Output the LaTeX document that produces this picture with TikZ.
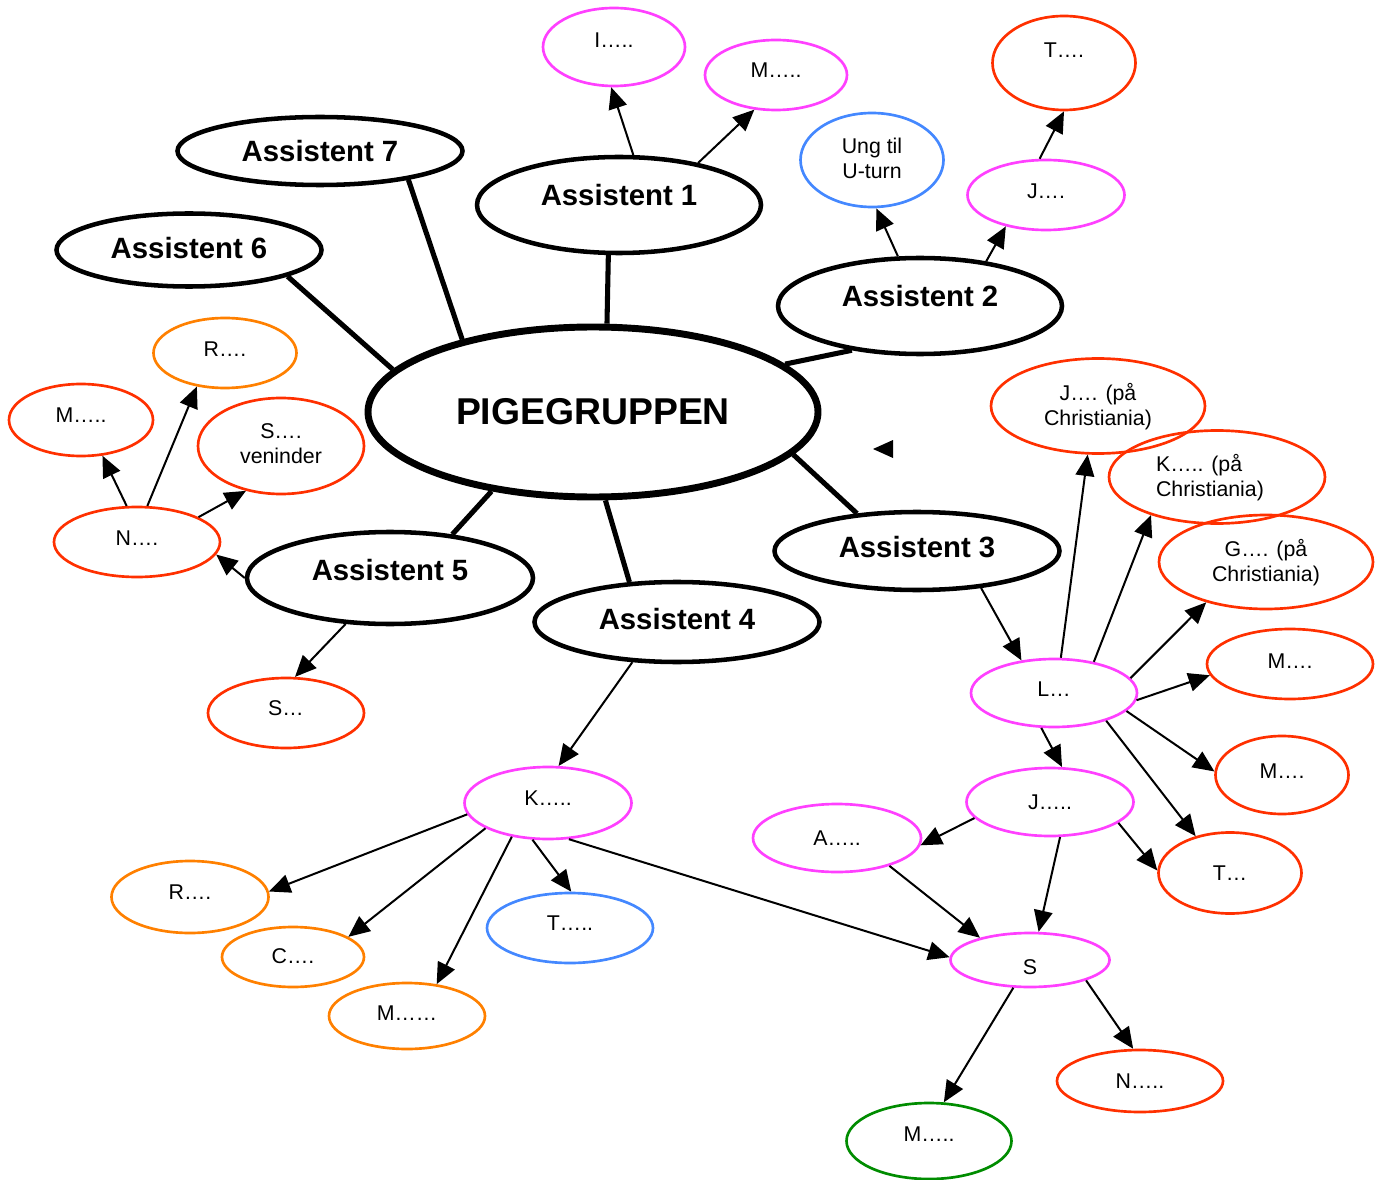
\documentclass[tikz,border=0pt]{standalone}
\usepackage{fontspec}
\setmainfont{Liberation Sans}
\usetikzlibrary{shapes.geometric,arrows.meta}
\definecolor{cmag}{RGB}{255,64,255}
\definecolor{cred}{RGB}{255,48,0}
\definecolor{corange}{RGB}{255,128,0}
\definecolor{cblue}{RGB}{68,136,255}
\definecolor{cgreen}{RGB}{0,140,0}
\begin{document}
\begin{tikzpicture}[x=0.75pt,y=-0.75pt,
 el/.style 2 args={ellipse, inner sep=0pt, minimum width=#1*0.75pt, minimum height=#2*0.75pt},
 hub/.style={draw, line width=5.2pt, font=\fontsize{28}{32}\selectfont\bfseries},
 asst/.style={draw, line width=3.4pt, font=\fontsize{22}{25}\selectfont\bfseries},
 sm/.style={draw=#1, line width=2pt, font=\fontsize{16}{18.75}\selectfont, align=center, text depth=0.3em},
 up/.style={text depth=#1*1.5pt},
 tie/.style={line width=3.8pt},
 arr/.style={line width=1.5pt, -{Triangle[length=16pt,width=14pt]}}
]
\useasboundingbox (0,0) rectangle (1381,1180);
% main and assistants
\node[el={450}{170},hub] (P) at (593,412) {PIGEGRUPPEN};
\node[el={284}{96},asst,up=10] (A1) at (619,205) {Assistent 1};
\node[el={285}{68},asst] (A7) at (320,151) {Assistent 7};
\node[el={265}{73},asst,up=2] (A6) at (189,250) {Assistent 6};
\node[el={284}{96},asst,up=10] (A2) at (920,306) {Assistent 2};
\node[el={285}{78},asst,up=4] (A3) at (917,551) {Assistent 3};
\node[el={285}{80},asst,up=3] (A4) at (677,622) {Assistent 4};
\node[el={286}{92},asst,up=8] (A5) at (390,578) {Assistent 5};
% small nodes
\node[el={142}{78},sm=cmag,up=7] (I1) at (614,47) {I…..};
\node[el={142}{70},sm=cmag,up=5] (M1) at (776,75) {M…..};
\node[el={143}{94},sm=cblue] (U) at (872,160) {Ung til\\U-turn};
\node[el={143}{94},sm=cred,up=13] (T1) at (1064,63) {T….};
\node[el={157}{70},sm=cmag,up=4] (J1) at (1046,195) {J….};
\node[el={143}{70},sm=corange,up=4] (R1) at (225,353) {R….};
\node[el={144}{72},sm=cred,up=5] (M2) at (81,420) {M…..};
\node[el={166}{96},sm=cred] (SV) at (281,446) {S….\\veninder};
\node[el={166}{70},sm=cred,up=4] (N1) at (137,542) {N….};
\node[el={156}{70},sm=cred,up=5] (S1) at (286,713) {S…};
\node[el={167}{72},sm=cmag,up=5] (K1) at (548,803) {K…..};
\node[el={157}{72},sm=corange,up=5] (R2) at (190,897) {R….};
\node[el={142}{60},sm=corange,up=1] (C1) at (293,957) {C….};
\node[el={156}{66},sm=corange,up=3] (M3) at (407,1016) {M……};
\node[el={166}{70},sm=cblue,up=5] (T2) at (570,928) {T…..};
\node[el={214}{95},sm=cred] (JC) at (1098,406) {J…. (på\\Christiania)};
\node[el={216}{93},sm=cred,align=left] (KC) at (1217,477) {K….. (på\\Christiania)\hspace*{10.5pt}};
\node[el={214}{94},sm=cred] (GC) at (1266,562) {G…. (på\\Christiania)};
\node[el={166}{70},sm=cred,up=3] (M4) at (1290,664) {M….};
\node[el={166}{68},sm=cmag,up=4] (L1) at (1054,693) {L…};
\node[el={133}{78},sm=cred,up=4] (M5) at (1282,775) {M….};
\node[el={167}{68},sm=cmag,up=0] (J2) at (1050,802) {J…..};
\node[el={168}{68},sm=cmag,up=0] (A0) at (837,838) {A…..};
\node[el={143}{81},sm=cred,up=0] (T3) at (1230,873) {T…};
\node[el={159}{54},sm=cmag,text height=22pt,text depth=0pt] (S2) at (1030,960) {S};
\node[el={166}{62},sm=cred,up=0] (N2) at (1140,1081) {N…..};
\node[el={165}{76},sm=cgreen,up=7] (M6) at (929,1141) {M…..};
% ties to the hub
\draw[tie] (A1.258) -- (P.81);
\draw[tie] (A7.342) -- (P.151);
\draw[tie] (A6.345) -- (P.168);
\draw[tie] (A2.213) -- (P.14);
\draw[tie] (A3.148) -- (P.348);
\draw[tie] (A4.140) -- (P.278);
\draw[tie] (A5.35) -- (P.218);
% arrows
\draw[arr] (A1.74) -- (I1.266);
\draw[arr] (A1.28) -- (M1.238);
\draw[arr] (A2.114) -- (U.275);
\draw[arr] (A2.34) -- (J1.218);
\draw[arr] (J1.100) -- (T1.270);
\draw[arr] (N1.106) -- (M2.301);
\draw[arr] (N1.74) -- (R1.230);
\draw[arr] (N1.22) -- (SV.232);
\draw[arr] (A5.180) -- (N1.351);
\draw[arr] (A5.226) -- (S1.76);
\draw[arr] (A4.222) -- (K1.74);
\draw[arr] (K1.188) -- (R2.4);
\draw[arr] (K1.202) -- (C1.20);
\draw[arr] (K1.223) -- (M3.47);
\draw[arr] (K1.247) -- (T2.88);
\draw[arr] (K1.300) -- (S2.178);
\draw[arr] (A3.330) -- (L1.135);
\draw[arr] (L1.79) -- (JC.258);
\draw[arr] (L1.38) -- (KC.210);
\draw[arr] (L1.11) -- (GC.214);
\draw[arr] (L1.355) -- (M4.188);
\draw[arr] (L1.346) -- (M5.177);
\draw[arr] (L1.332) -- (T3.133);
\draw[arr] (L1.250) -- (J2.71);
\draw[arr] (J2.192) -- (A0.355);
\draw[arr] (J2.343) -- (T3.178);
\draw[arr] (J2.286) -- (S2.73);
\draw[arr] (A0.332) -- (S2.156);
\draw[arr] (S2.239) -- (M6.69);
\draw[arr] (S2.340) -- (N2.102);
% stray arrowhead
\fill (873,449) -- (893,440) -- (893,458) -- cycle;
\end{tikzpicture}
\end{document}
